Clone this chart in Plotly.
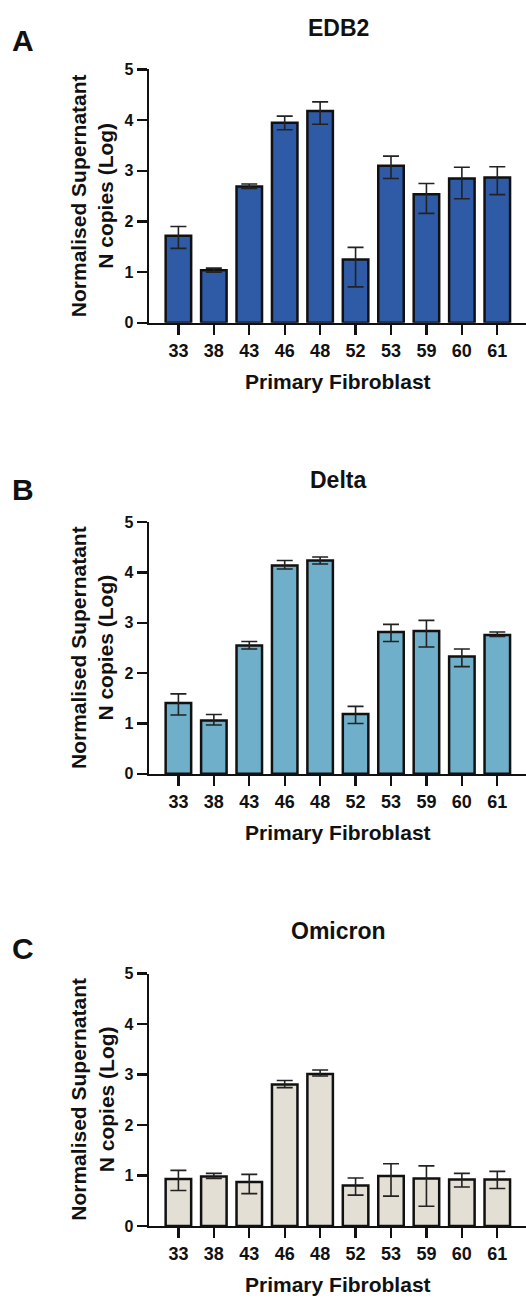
import plotly.graph_objects as go

categories = ["33", "38", "43", "46", "48", "52", "53", "59", "60", "61"]

edb2_mean = [1.72, 1.04, 2.69, 3.95, 4.18, 1.25, 3.10, 2.54, 2.85, 2.87]
edb2_hi = [1.90, 1.08, 2.74, 4.08, 4.36, 1.49, 3.29, 2.75, 3.07, 3.08]
edb2_lo = [1.47, 1.00, 2.65, 3.81, 3.92, 0.71, 2.85, 2.16, 2.45, 2.53]

delta_mean = [1.41, 1.06, 2.55, 4.14, 4.24, 1.19, 2.82, 2.84, 2.33, 2.76]
delta_hi = [1.59, 1.18, 2.63, 4.24, 4.31, 1.34, 2.97, 3.05, 2.48, 2.82]
delta_lo = [1.17, 0.97, 2.48, 4.07, 4.17, 1.00, 2.63, 2.52, 2.13, 2.73]

omicron_mean = [0.93, 0.98, 0.87, 2.80, 3.01, 0.80, 0.99, 0.94, 0.92, 0.92]
omicron_hi = [1.10, 1.04, 1.02, 2.88, 3.09, 0.95, 1.23, 1.19, 1.04, 1.08]
omicron_lo = [0.70, 0.94, 0.64, 2.74, 2.97, 0.61, 0.59, 0.39, 0.77, 0.74]

panel_titles = ["EDB2", "Delta", "Omicron"]
panel_letters = ["A", "B", "C"]
y_ticks = [0, 1, 2, 3, 4, 5]

W, H = 526, 1303
FONT = "Liberation Sans, Arial, sans-serif"

panels = [
    dict(mean=edb2_mean, hi=edb2_hi, lo=edb2_lo, color="#2E5AA6",
         top=62.3, bottom=319.0, title_y=20, letter_y=33),
    dict(mean=delta_mean, hi=delta_hi, lo=delta_lo, color="#6FAFC9",
         top=521.0, bottom=776.0, title_y=478, letter_y=488),
    dict(mean=omicron_mean, hi=omicron_hi, lo=omicron_lo, color="#E3DFD5",
         top=978.3, bottom=1234.0, title_y=935, letter_y=953),
]

x_left_px = 149.0
x_dom = [x_left_px / W, 1.0]

fig = go.Figure()
annotations = []

for i, p in enumerate(panels):
    n = i + 1
    xa = "x" if n == 1 else f"x{n}"
    ya = "y" if n == 1 else f"y{n}"
    plus = [h - m for h, m in zip(p["hi"], p["mean"])]
    minus = [m - l for m, l in zip(p["mean"], p["lo"])]
    fig.add_trace(go.Bar(
        x=list(range(len(categories))), y=p["mean"], xaxis=xa, yaxis=ya,
        width=0.72,
        marker=dict(color=p["color"], line=dict(color="#111111", width=2.5)),
        error_y=dict(type="data", symmetric=False, array=plus, arrayminus=minus,
                     color="#222222", thickness=1.6, width=8),
        showlegend=False, hoverinfo="skip",
    ))
    ydom = [1 - p["bottom"] / H, 1 - p["top"] / H]
    fig.layout[f"xaxis{'' if n == 1 else n}"] = dict(
        domain=x_dom, anchor=ya, range=[-0.83, 9.81],
        tickmode="array", tickvals=list(range(len(categories))), ticktext=categories,
        ticks="outside", ticklen=10, tickwidth=2.2, tickcolor="#111111",
        showline=True, linecolor="#111111", linewidth=2.5,
        showgrid=False, zeroline=False,
        tickfont=dict(family=FONT, size=18, color="#111111", weight="bold"),
    )
    fig.layout[f"yaxis{'' if n == 1 else n}"] = dict(
        domain=ydom, anchor=xa, range=[0, 5],
        tickmode="array", tickvals=y_ticks, ticktext=[str(t) for t in y_ticks],
        ticks="outside", ticklen=10, tickwidth=2.2, tickcolor="#111111",
        showline=True, linecolor="#111111", linewidth=2.5,
        showgrid=False, zeroline=False,
        tickfont=dict(family=FONT, size=16, color="#111111", weight="bold"),
    )
    annotations.append(dict(
        text="<b>%s</b>" % panel_titles[i], x=338 / W, y=1 - p["title_y"] / H,
        xref="paper", yref="paper", xanchor="center", yanchor="middle",
        showarrow=False, font=dict(family=FONT, size=23, color="#111111")))
    annotations.append(dict(
        text="<b>%s</b>" % panel_letters[i], x=23 / W, y=1 - p["letter_y"] / H,
        xref="paper", yref="paper", xanchor="center", yanchor="middle",
        showarrow=False, font=dict(family=FONT, size=30, color="#111111")))
    annotations.append(dict(
        text="<b>Normalised Supernatant<br>N copies (Log)</b>",
        x=92 / W, y=1 - (p["top"] + p["bottom"]) / 2 / H,
        xref="paper", yref="paper", xanchor="center", yanchor="middle",
        textangle=-90, showarrow=False,
        font=dict(family=FONT, size=21, color="#111111")))
    annotations.append(dict(
        text="<b>Primary Fibroblast</b>", x=338 / W, y=1 - (p["bottom"] + 59) / H,
        xref="paper", yref="paper", xanchor="center", yanchor="middle",
        showarrow=False, font=dict(family=FONT, size=21, color="#111111")))

fig.update_layout(
    width=W, height=H, margin=dict(l=0, r=0, t=0, b=0),
    paper_bgcolor="white", plot_bgcolor="white",
    annotations=annotations, hovermode=False,
)

fig.write_html("out.html", config={"displayModeBar": False, "staticPlot": True},
               post_script="document.body.style.margin='0';")
